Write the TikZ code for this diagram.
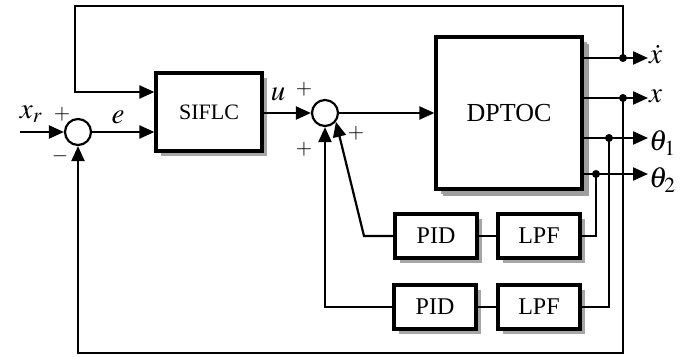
\documentclass[tikz,border=0pt]{standalone}
\usepackage{mathptmx}
\usepackage[no-math]{fontspec}
\setmainfont{Liberation Serif}
\usetikzlibrary{arrows.meta,shadows}
\begin{document}
\begin{tikzpicture}[x=1pt,y=-1pt,
  ln/.style={line width=2.2pt},
  arr/.style={ln,-{Triangle[length=15pt,width=13pt]}},
  blk/.style={draw,line width=3.2pt,fill=white,inner sep=0pt,
    drop shadow={shadow xshift=5pt,shadow yshift=-5pt,fill=black!35,opacity=1}},
  bigblk/.style={blk,drop shadow={shadow xshift=7pt,shadow yshift=-7pt,fill=black!38,opacity=1}},
  sumc/.style={circle,draw,line width=2.2pt,minimum size=26pt,inner sep=0pt,fill=white},
  jdot/.style={circle,fill=black,inner sep=0pt,minimum size=8pt},
  lbl/.style={font=\fontsize{29}{32}\selectfont,inner sep=1pt},
  sgn/.style={font=\fontsize{21}{24}\selectfont,inner sep=0pt}]
\useasboundingbox (0,0) rectangle (682,356);

% blocks
\node[blk,minimum width=106pt,minimum height=78pt,font=\fontsize{22}{24}\selectfont] (siflc) at (209,112) {SIFLC};
\node[bigblk,minimum width=146pt,minimum height=152pt,font=\fontsize{26}{28}\selectfont] (dptoc) at (509,113) {DPTOC};
\node[blk,minimum width=82pt,minimum height=44pt,font=\fontsize{24}{26}\selectfont] (pid1) at (436,236) {PID};
\node[blk,minimum width=82pt,minimum height=44pt,font=\fontsize{24}{26}\selectfont] (lpf1) at (539,236) {LPF};
\node[blk,minimum width=82pt,minimum height=44pt,font=\fontsize{24}{26}\selectfont] (pid2) at (435,307) {PID};
\node[blk,minimum width=82pt,minimum height=44pt,font=\fontsize{24}{26}\selectfont] (lpf2) at (539,307) {LPF};

% summing junctions
\node[sumc] (s1) at (78,132) {};
\node[sumc] (s2) at (325,113) {};

% coordinates
\coordinate (xr) at (20,132);
\coordinate (tl) at (75,6);
\coordinate (bl) at (78,353);
\coordinate (k1) at (364,236);
\coordinate (oxd) at (648,58);
\coordinate (ox) at (648,98);
\coordinate (ot1) at (648,138);
\coordinate (ot2) at (648,174);
\node[jdot] (jxd) at (623,58) {};
\node[jdot] (jx) at (623,98) {};
\node[jdot] (jt1) at (609,138) {};
\node[jdot] (jt2) at (596,174) {};

% forward path
\draw[arr] (xr) -- (s1.west);
\draw[arr] (s1.east) -- (siflc.west |- s1.east);
\draw[arr] (siflc.east |- s2.west) -- (s2.west);
\draw[arr] (s2.east) -- (dptoc.west |- s2.east);

% outputs
\draw[arr] (dptoc.east |- oxd) -- (oxd);
\draw[arr] (dptoc.east |- ox) -- (ox);
\draw[arr] (dptoc.east |- ot1) -- (ot1);
\draw[arr] (dptoc.east |- ot2) -- (ot2);

% top loop
\draw[arr] (jxd.center) -- (jxd.center |- tl) -- (tl) -- ([yshift=20pt]siflc.west -| tl) -- ([yshift=20pt]siflc.west);
% bottom loop
\draw[arr] (jx.center) -- (jx.center |- bl) -- (bl) -- (s1.south);
% theta feedbacks
\draw[ln] (jt2.center) |- (lpf1.east);
\draw[ln] (jt1.center) |- (lpf2.east);
\draw[ln] (lpf1.west) -- (pid1.east);
\draw[ln] (lpf2.west) -- (pid2.east);
\draw[arr] (pid1.west) -- (k1) -- (s2.-39);
\draw[arr] (pid2.west) -| (s2.south);

% labels
\node[lbl] (lxr) at (31,114) {$x_r$};
\node[lbl] (le) at (118,117) {$e$};
\node[lbl] (lu) at (278,94) {$u$};
\node[lbl,anchor=west] (lxd) at (648,55) {$\dot{x}$};
\node[lbl,anchor=west] (lx) at (648,96) {$x$};
\node[lbl,anchor=west] (lt1) at (648,143) {$\theta_1$};
\node[lbl,anchor=west] (lt2) at (648,180) {$\theta_2$};
\node[sgn] (p1) at (62,114) {$+$};
\node[sgn] (m1) at (60,156) {$-$};
\node[sgn] (p2) at (304,89) {$+$};
\node[sgn] (p3) at (304,149) {$+$};
\node[sgn] (p4) at (356,133) {$+$};
\end{tikzpicture}
\end{document}
